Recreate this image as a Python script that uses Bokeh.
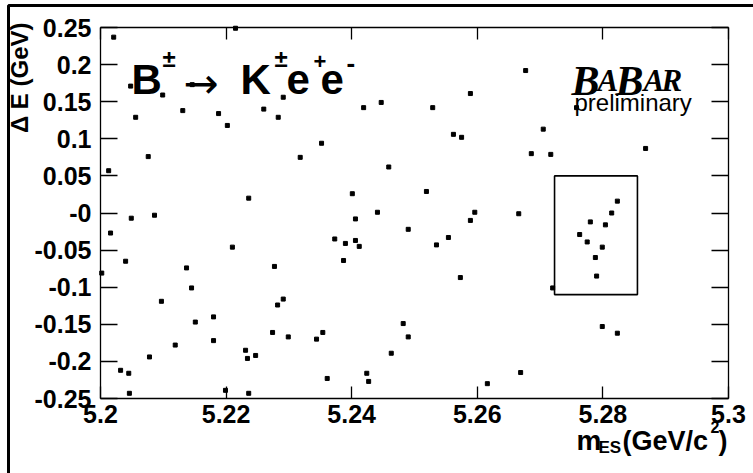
import math
from bokeh.plotting import figure
from bokeh.models import Range1d, LinearAxis, FixedTicker, Label
from bokeh.embed import file_html
from bokeh.resources import INLINE

# ---------------- data ----------------
mes = [5.2021, 5.2215, 5.2048, 5.2099, 5.2056, 5.2131, 5.2146, 5.2188, 5.2202, 5.2076,
       5.2013, 5.2291, 5.2260, 5.2283, 5.2419, 5.2447, 5.2529, 5.2589, 5.2562, 5.2575,
       5.2352, 5.2318, 5.2677, 5.2705, 5.2686, 5.2717, 5.2868, 5.2758, 5.2236, 5.2049,
       5.2086, 5.2016, 5.2210, 5.2040, 5.2137, 5.2002, 5.2145, 5.2097, 5.2459, 5.2401,
       5.2519, 5.2596, 5.2589, 5.2441, 5.2406, 5.2490, 5.2373, 5.2390, 5.2406, 5.2412,
       5.2554, 5.2535, 5.2387, 5.2277, 5.2573, 5.2291, 5.2282, 5.2666, 5.2823, 5.2814,
       5.2780, 5.2804, 5.2763, 5.2775, 5.2799, 5.2788, 5.2790, 5.2720, 5.2151, 5.2180,
       5.2119, 5.2180, 5.2078, 5.2231, 5.2234, 5.2247, 5.2032, 5.2045, 5.2046, 5.2199,
       5.2236, 5.2274, 5.2299, 5.2344, 5.2354, 5.2482, 5.2490, 5.2463, 5.2361, 5.2424,
       5.2427, 5.2616, 5.2799, 5.2823, 5.2669]
delta_e = [0.237, 0.249, 0.171, 0.159, 0.129, 0.138, 0.173, 0.134, 0.118, 0.076,
           0.057, 0.156, 0.140, 0.129, 0.142, 0.149, 0.142, 0.161, 0.106, 0.102,
           0.094, 0.075, 0.192, 0.113, 0.080, 0.079, 0.087, 0.142, 0.020, -0.007,
           -0.003, -0.027, -0.046, -0.065, -0.074, -0.081, -0.101, -0.119, 0.062, 0.026,
           0.029, 0.001, -0.010, 0.001, -0.008, -0.022, -0.035, -0.041, -0.037, -0.045,
           -0.033, -0.043, -0.064, -0.072, -0.087, -0.116, -0.124, -0.001, 0.016, 0.000,
           -0.012, -0.016, -0.029, -0.039, -0.046, -0.060, -0.085, -0.101, -0.147, -0.140,
           -0.178, -0.172, -0.194, -0.185, -0.196, -0.192, -0.212, -0.216, -0.243, -0.239,
           -0.243, -0.161, -0.167, -0.170, -0.161, -0.149, -0.167, -0.189, -0.223, -0.216,
           -0.227, -0.230, -0.153, -0.162, -0.215]

x_ticks = [5.2, 5.22, 5.24, 5.26, 5.28, 5.3]
x_tick_labels = ["5.2", "5.22", "5.24", "5.26", "5.28", "5.3"]
y_ticks = [0.25, 0.2, 0.15, 0.1, 0.05, 0.0, -0.05, -0.1, -0.15, -0.2, -0.25]
y_tick_labels = ["0.25", "0.2", "0.15", "0.1", "0.05", "-0", "-0.05", "-0.1", "-0.15", "-0.2", "-0.25"]

box_mes = [5.2723, 5.2855]
box_de = [-0.11, 0.05]

x_lo, x_hi = x_ticks[0], x_ticks[-1]
y_lo, y_hi = y_ticks[-1], y_ticks[0]

# pixel layout of the plotting box on the 753x473 page
BOX_L, BOX_R, BOX_T, BOX_B = 100, 728, 27, 398
W, H = 753, 473


def X(px):
    return x_lo + (px - BOX_L) * (x_hi - x_lo) / (BOX_R - BOX_L)


def Y(py):
    return y_hi - (py - BOX_T) * (y_hi - y_lo) / (BOX_B - BOX_T)


# ---------------- figure ----------------
p = figure(width=W, height=H,
           x_range=Range1d(X(0), X(W)), y_range=Range1d(Y(H), Y(0)),
           output_backend="svg", toolbar_location=None,
           x_axis_location=None, y_axis_location=None,
           min_border=0, min_border_left=0, min_border_right=0,
           min_border_top=0, min_border_bottom=0,
           background_fill_color="white", border_fill_color="white")
p.outline_line_color = None
p.grid.visible = False


def make_axis(ticks, labels, tick_in, loc, bounds, show_labels=True):
    ax = LinearAxis(fixed_location=loc, bounds=bounds)
    ax.ticker = FixedTicker(ticks=ticks)
    ax.axis_line_color = "black"
    ax.axis_line_width = 1.3
    ax.major_tick_line_color = "black"
    ax.major_tick_line_width = 1.3
    ax.major_tick_in = tick_in
    ax.major_tick_out = 0
    ax.minor_tick_line_color = None
    ax.major_label_text_font = "Liberation Sans"
    ax.major_label_text_font_style = "bold"
    ax.major_label_text_color = "black"
    if show_labels:
        ax.major_label_text_font_size = "25px"
        ax.major_label_overrides = {t: s for t, s in zip(ticks, labels)}
    else:
        ax.major_label_text_font_size = "0px"
        ax.major_label_overrides = {t: "" for t in ticks}
    return ax


bottom_ax = make_axis(x_ticks, x_tick_labels, 12, y_lo, (x_lo, x_hi))
bottom_ax.major_label_standoff = 6
p.add_layout(bottom_ax, "below")
left_ax = make_axis(y_ticks, y_tick_labels, 17, x_lo, (y_lo, y_hi))
left_ax.major_label_standoff = 9
p.add_layout(left_ax, "left")
top_ax = make_axis(x_ticks, x_tick_labels, 12, y_hi, (x_lo, x_hi), show_labels=False)
p.add_layout(top_ax, "above")
right_ax = make_axis(y_ticks, y_tick_labels, 17, x_hi, (y_lo, y_hi), show_labels=False)
p.add_layout(right_ax, "right")

# outer page frame (only left and top edges are visible in the picture)
p.line([X(8), X(8), X(W + 10)], [Y(H + 10), Y(5), Y(5)],
       line_color="black", line_width=3)

# data points
p.scatter(mes, delta_e, marker="square", size=4, color="black")

# signal box
p.quad(left=box_mes[0], right=box_mes[1], bottom=box_de[0], top=box_de[1],
       fill_color=None, line_color="black", line_width=1.6)


# ---------------- texts ----------------
def lab(text, px, py, size, font="Liberation Sans", style="bold", angle=0,
        align="left", baseline="alphabetic"):
    p.add_layout(Label(x=X(px), y=Y(py), text=text, text_font=font,
                       text_font_style=style, text_font_size=f"{size}px",
                       angle=angle, text_align=align, text_baseline=baseline,
                       text_color="black"))


# decay title
lab("B", 131, 79, 42)
lab("±", 162, 58, 24)
lab("→", 183, 83, 42, font="DejaVu Sans", style="normal")
lab("K", 240, 79, 42)
lab("±", 274, 58, 24)
lab("e", 286, 79, 42)
lab("+", 313, 61, 22)
lab("e", 320, 79, 42)
lab("-", 346, 62, 26)

# BaBar logo
lab("B", 571, 80, 42, font="Liberation Serif", style="bold italic")
lab("A", 597, 80, 31, font="Liberation Serif", style="bold italic")
lab("B", 615, 80, 42, font="Liberation Serif", style="bold italic")
lab("A", 643, 80, 31, font="Liberation Serif", style="bold italic")
lab("R", 661, 80, 31, font="Liberation Serif", style="bold italic")
lab("preliminary", 574, 102, 24, style="normal")

# y axis title
lab("Δ E (GeV)", 19, 22, 24, angle=math.pi / 2, align="right", baseline="middle")

# x axis title
lab("m", 576, 440, 28)
lab("ES", 598, 447, 17)
lab("(GeV/c", 622, 440, 27)
lab("2", 710, 426, 16)
lab(")", 718, 440, 27)

open("out.html", "w").write(file_html(p, INLINE))
